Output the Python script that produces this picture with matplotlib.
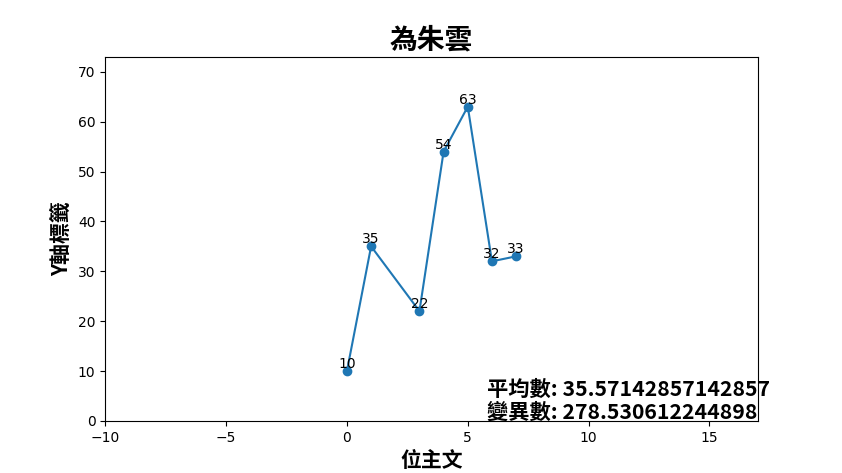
import matplotlib
matplotlib.use("Agg")
import matplotlib.pyplot as plt
import numpy as np

plt.rcParams['font.family'] = ['Noto Sans CJK TC', 'DejaVu Sans']

x = [0, 1, 3, 4, 5, 6, 7]
y = [10, 35, 22, 54, 63, 32, 33]
title = "為朱雲"
xlabel = "位主文"
ylabel = "Y軸標籤"

mean = np.mean(y)
var = np.var(y)

fig, ax = plt.subplots(figsize=(8.42, 4.73), dpi=100)
ax.plot(x, y, marker='o')
for xi, yi in zip(x, y):
    ax.text(xi, yi, str(yi), ha='center', va='bottom', family='DejaVu Sans', fontsize=10)
ax.set_xlim(-10, max(x) + 10)
ax.set_ylim(0, max(y) + 10)
ax.set_title(title, fontsize=20, fontweight='bold')
ax.set_xlabel(xlabel, fontsize=15, fontweight='bold')
ax.set_ylabel(ylabel, fontsize=15, fontweight='bold')
ax.tick_params(labelsize=10)
for lab in ax.get_xticklabels() + ax.get_yticklabels():
    lab.set_family('DejaVu Sans')
ax.text(5.8, -0.3, f"平均數: {mean}\n變異數: {var}", fontsize=15.3, fontweight='bold',
        ha='left', va='bottom', linespacing=1.1)
fig.savefig("out.png", dpi=100)
